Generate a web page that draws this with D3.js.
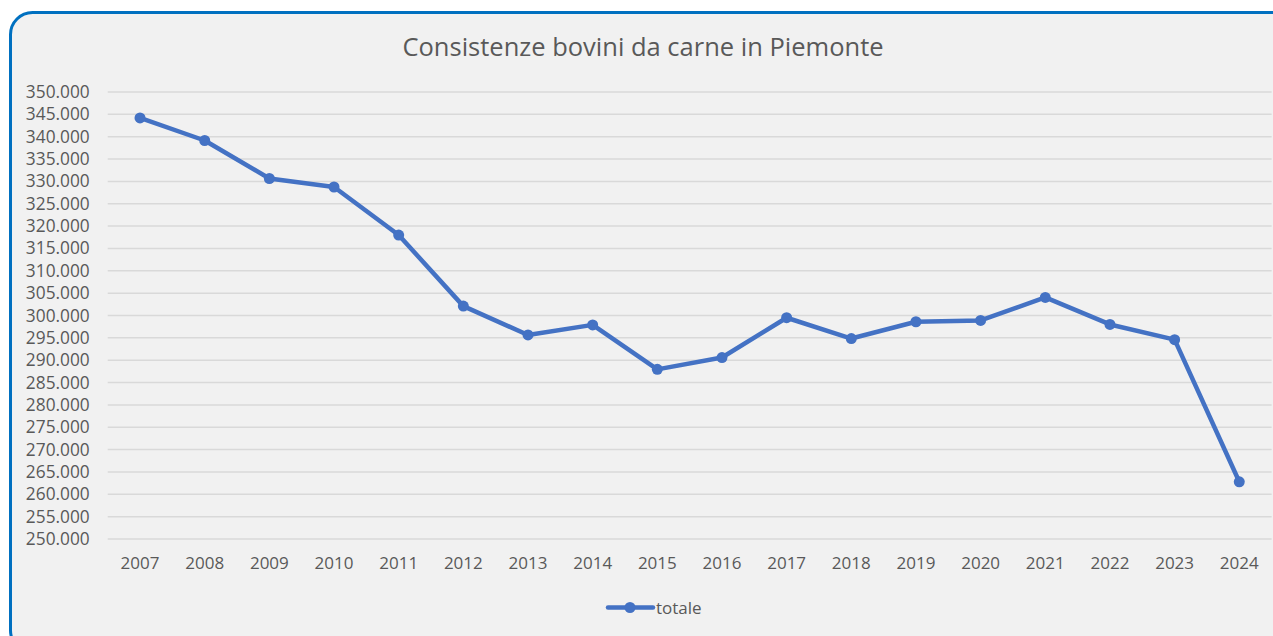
<!DOCTYPE html>
<html><head><meta charset="utf-8">
<script src="https://cdn.jsdelivr.net/npm/d3@7"></script>
<style>html,body{margin:0;padding:0;background:#fff;}svg{display:block;}</style>
</head><body>
<svg id="c" width="1273" height="636"></svg>
<script>
const years = ["2007","2008","2009","2010","2011","2012","2013","2014","2015","2016","2017","2018","2019","2020","2021","2022","2023","2024"];
const totale = [344200,339150,330650,328750,318000,302100,295650,297900,287950,290600,299500,294850,298600,298900,304050,298000,294600,262800];
const yTicks = [250000,255000,260000,265000,270000,275000,280000,285000,290000,295000,300000,305000,310000,315000,320000,325000,330000,335000,340000,345000,350000];
const title = "Consistenze bovini da carne in Piemonte";
const seriesName = "totale";

const svg = d3.select("#c");
const font = "'Open Sans', 'Noto Sans', sans-serif";
const textCol = "#595959";

// card
svg.append("rect").attr("x",10.5).attr("y",12.5).attr("width",1300).attr("height",640)
  .attr("rx",22).attr("ry",22).attr("fill","#f1f1f1").attr("stroke","#0070c0").attr("stroke-width",3);

const m = {l:107.7, r:1271.6, t:92, b:539};
const x = d3.scaleBand().domain(years).range([m.l,m.r]);
const y = d3.scaleLinear().domain([250000,350000]).range([m.b,m.t]);
const fmt = d3.formatLocale({decimal:",",thousands:".",grouping:[3],currency:["€",""]}).format(",d");

// grid
svg.append("g").selectAll("line").data(yTicks).join("line")
  .attr("x1",m.l).attr("x2",m.r).attr("y1",d=>y(d)).attr("y2",d=>y(d))
  .attr("stroke","#d9d9d9").attr("stroke-width",1.5);

// y labels
const ya = svg.append("g").attr("transform",`translate(${m.l},0)`)
  .call(d3.axisLeft(y).tickValues(yTicks).tickFormat(fmt).tickSize(0).tickPadding(18));
ya.select(".domain").remove();
ya.selectAll("text").attr("font-family",font).attr("font-size",17.3).attr("fill",textCol);

// x labels
const xa = svg.append("g").attr("transform",`translate(0,${m.b})`)
  .call(d3.axisBottom(x).tickSize(0).tickPadding(18));
xa.select(".domain").remove();
xa.selectAll("text").attr("font-family",font).attr("font-size",17).attr("fill",textCol);

// line
const col = "#4472c4";
const line = d3.line().x((d,i)=>x(years[i])+x.bandwidth()/2).y(d=>y(d));
svg.append("path").datum(totale).attr("d",line).attr("fill","none")
  .attr("stroke",col).attr("stroke-width",4.5).attr("stroke-linejoin","round");
svg.append("g").selectAll("circle").data(totale).join("circle")
  .attr("cx",(d,i)=>x(years[i])+x.bandwidth()/2).attr("cy",d=>y(d)).attr("r",5.5).attr("fill",col);

// title
svg.append("text").attr("x",643).attr("y",56).attr("text-anchor","middle")
  .attr("font-family",font).attr("font-size",25.5).attr("fill",textCol).text(title);

// legend
const lg = svg.append("g");
lg.append("line").attr("x1",608).attr("x2",653).attr("y1",607.5).attr("y2",607.5)
  .attr("stroke",col).attr("stroke-width",4.5).attr("stroke-linecap","round");
lg.append("circle").attr("cx",630).attr("cy",607.5).attr("r",5.5).attr("fill",col);
lg.append("text").attr("x",656).attr("y",613.5).attr("font-family",font).attr("font-size",17)
  .attr("fill",textCol).text(seriesName);
</script>
</body></html>
